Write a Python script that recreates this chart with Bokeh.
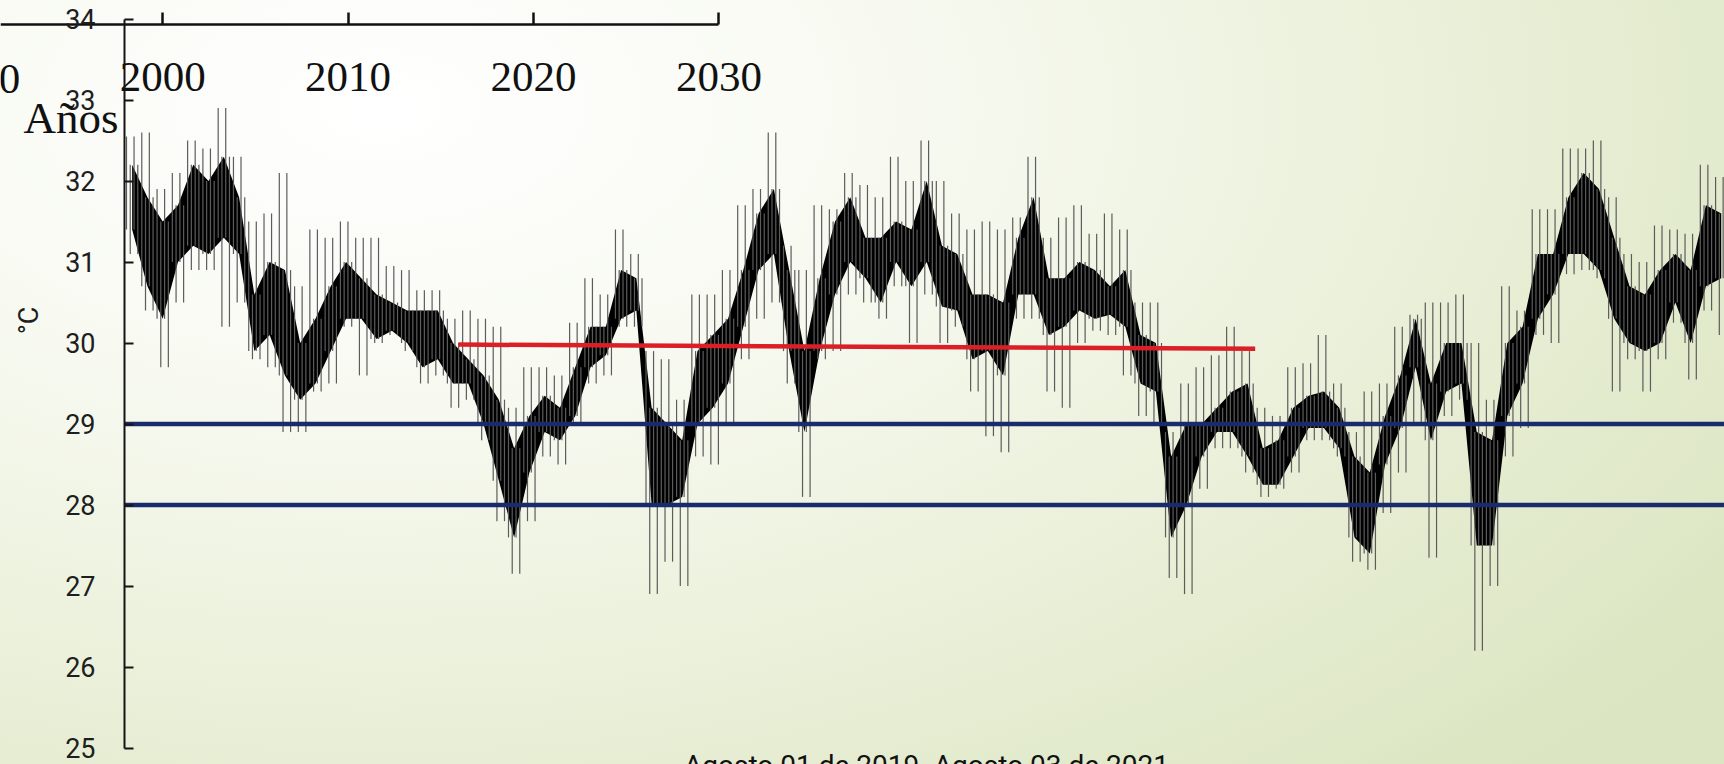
import pandas as pd
from math import pi
from bokeh.plotting import figure
from bokeh.models import Range1d, FixedTicker, Label, LinearAxis, ColumnDataSource
from bokeh.core.properties import value
from bokeh.embed import file_html
from bokeh.resources import INLINE

# ---------------- data ----------------
START = "2019-08-01"
END = "2021-08-03"
X_LABEL = "Agosto 01 de 2019- Agosto 03 de 2021"

# weekly bins from 2019-08-01: spike maximum, dense band top, dense band bottom, spike minimum (°C)
temp_max = [32.55, 32.6, 31.9, 32.1, 32.5, 32.4, 32.9, 32.3, 31.5, 31.6,
            32.1, 30.7, 31.4, 31.3, 31.5, 31.3, 31.3, 30.95, 30.9, 30.65,
            30.65, 30.3, 30.4, 30.3, 30.2, 29.2, 29.7, 29.7, 29.6, 30.25,
            30.8, 30.6, 31.4, 31.1, 29.9, 29.8, 29.3, 30.6, 30.6, 30.9,
            31.7, 31.9, 32.6, 31.2, 30.9, 31.7, 31.65, 32.1, 31.95, 31.8,
            32.3, 32.0, 32.5, 32.0, 31.6, 31.4, 31.5, 31.4, 31.55, 32.3,
            31.3, 31.55, 31.7, 31.35, 31.6, 31.4, 30.5, 30.5, 28.9, 29.5,
            29.7, 29.85, 30.2, 29.9, 29.2, 29.1, 29.7, 29.75, 30.1, 29.5,
            28.9, 29.4, 29.5, 30.2, 30.35, 30.5, 30.5, 30.6, 30.0, 29.3,
            30.7, 30.4, 31.65, 31.65, 32.4, 32.4, 32.5, 31.8, 31.1, 31.0,
            31.45, 31.4, 31.35, 32.2, 32.05]
band_hi = [32.2, 31.8, 31.5, 31.7, 32.2, 32.0, 32.3, 31.8, 30.6, 31.0,
           30.9, 30.0, 30.3, 30.7, 31.0, 30.8, 30.6, 30.5, 30.4, 30.4,
           30.4, 30.0, 29.8, 29.6, 29.3, 28.7, 29.1, 29.35, 29.2, 29.7,
           30.2, 30.2, 30.9, 30.8, 29.2, 29.0, 28.8, 29.9, 30.1, 30.3,
           30.9, 31.6, 31.9, 30.9, 29.9, 30.8, 31.5, 31.8, 31.3, 31.3,
           31.5, 31.4, 32.0, 31.2, 31.1, 30.6, 30.6, 30.5, 31.3, 31.8,
           30.8, 30.8, 31.0, 30.9, 30.7, 30.9, 30.1, 30.0, 28.6, 29.0,
           29.0, 29.2, 29.4, 29.5, 28.7, 28.8, 29.2, 29.35, 29.4, 29.2,
           28.6, 28.4, 29.1, 29.6, 30.3, 29.5, 30.0, 30.0, 28.9, 28.8,
           30.0, 30.2, 31.1, 31.1, 31.8, 32.1, 31.9, 31.3, 30.7, 30.6,
           30.9, 31.1, 30.9, 31.7, 31.6]
band_lo = [31.4, 30.7, 30.3, 31.0, 31.2, 31.1, 31.3, 31.1, 29.9, 30.1,
           29.6, 29.3, 29.5, 29.9, 30.3, 30.3, 30.05, 30.15, 30.0, 29.7,
           29.8, 29.5, 29.5, 29.0, 28.3, 27.6, 28.4, 28.9, 28.8, 29.1,
           29.7, 29.85, 30.3, 30.4, 28.0, 28.0, 28.1, 29.0, 29.2, 29.5,
           30.2, 30.9, 31.1, 29.9, 28.9, 29.9, 30.6, 31.0, 30.8, 30.5,
           31.0, 30.7, 31.0, 30.45, 30.4, 29.8, 29.9, 29.6, 30.6, 30.6,
           30.1, 30.2, 30.4, 30.3, 30.35, 30.2, 29.5, 29.4, 27.6, 28.0,
           28.6, 28.9, 28.9, 28.6, 28.25, 28.25, 28.6, 28.95, 28.95, 28.7,
           27.6, 27.4, 28.5, 28.95, 29.7, 28.8, 29.4, 29.5, 27.5, 27.5,
           29.1, 29.5, 30.3, 30.6, 31.1, 31.1, 30.9, 30.3, 30.0, 29.9,
           30.0, 30.5, 30.0, 30.7, 30.8]
temp_min = [31.1, 30.4, 29.7, 30.5, 30.9, 30.9, 30.2, 30.5, 29.8, 29.7,
            28.9, 28.9, 29.4, 29.5, 30.2, 29.6, 30.0, 30.1, 29.9, 29.5,
            29.6, 29.2, 29.3, 28.8, 27.8, 27.15, 27.8, 28.6, 28.5, 29.0,
            29.5, 29.6, 30.2, 30.2, 26.9, 27.3, 27.0, 28.6, 28.5, 29.0,
            29.8, 30.3, 30.5, 29.5, 28.1, 29.8, 29.9, 30.6, 30.5, 30.3,
            30.7, 30.0, 30.6, 30.0, 30.2, 29.4, 28.85, 28.65, 30.3, 30.3,
            29.4, 29.2, 30.0, 30.15, 30.1, 29.6, 29.1, 29.0, 27.1, 26.9,
            28.2, 28.7, 28.7, 28.4, 28.1, 28.2, 28.4, 28.8, 28.8, 28.6,
            27.3, 27.2, 27.9, 28.4, 29.0, 27.35, 29.1, 29.3, 26.2, 27.0,
            28.6, 28.95, 30.1, 30.0, 30.85, 30.9, 30.8, 29.4, 29.8, 29.4,
            29.8, 30.25, 29.55, 30.4, 30.1]

mean_2020_dates = ["2020-01-01", "2020-12-31"]
mean_2020_vals = [29.98, 29.93]
threshold_vals = [29, 28]

y_ticks = [25, 26, 27, 28, 29, 30, 31, 32, 33, 34]
year_ticks = [1990, 2000, 2010, 2020, 2030]

# ---------------- layout helpers (pixel geometry of the slide) ----------------
W, H = 1724, 764
AXIS_X = 124              # canvas x of the temperature axis (= 2019-08-01)
PX_PER_DEG = 81.0
Y30_PX = 342.5            # canvas y of 30 °C
PX_PER_DAY = 1600 / 733
YEAR_PX = 18.54           # px per year on the pasted "Años" axis
Y2000_PX = 162.2          # canvas x of 2000 on that axis


def deg_at(py):
    return 30 + (Y30_PX - py) / PX_PER_DEG


def year_at(px):
    return 2000 + (px - Y2000_PX) / YEAR_PX


def date_at(px):
    return pd.Timestamp(START) + pd.Timedelta(days=(px - AXIS_X) / PX_PER_DAY)


def ms(ts):
    return ts.value / 1e6


t0 = pd.Timestamp(START)
t_end = pd.Timestamp(END)

p = figure(width=W, height=H, x_axis_type="datetime",
           x_range=Range1d(date_at(0), date_at(W)), y_range=Range1d(deg_at(H), deg_at(0)),
           min_border_left=0, min_border_right=0, min_border_top=0, min_border_bottom=0,
           toolbar_location=None, output_backend="svg", title=None,
           styles={"background": "radial-gradient(ellipse 95% 120% at 22% 14%, #ffffff 0%, #f8faf2 30%, #eaf0d9 65%, #dbe5c1 100%)"})
p.background_fill_alpha = 0
p.border_fill_alpha = 0
p.outline_line_color = None
p.grid.visible = False
p.xaxis.visible = False

p.extra_x_ranges = {"years": Range1d(year_at(0), year_at(W))}

# temperature axis, drawn at 2019-08-01
ya = p.yaxis[0]
ya.fixed_location = ms(t0)
ya.ticker = FixedTicker(ticks=y_ticks)
ya.bounds = (25, 34)
ya.major_tick_in = 9
ya.major_tick_out = 0
ya.minor_tick_line_color = None
ya.axis_line_width = 2
ya.major_tick_line_width = 2
ya.axis_line_color = "#151515"
ya.major_tick_line_color = "#151515"
ya.major_label_text_font = "Roboto"
ya.major_label_text_font_size = "27px"
ya.major_label_text_color = "#1e1e1e"
ya.major_label_standoff = 29

# series: dense daily band plus hourly spikes to the weekly extremes
centers = pd.date_range(START, periods=len(temp_max), freq="7D") + pd.Timedelta(hours=84)
src = ColumnDataSource(dict(
    x=centers,
    x1=centers - pd.Timedelta(hours=62),
    x2=centers - pd.Timedelta(hours=21),
    x3=centers + pd.Timedelta(hours=21),
    x4=centers + pd.Timedelta(hours=62),
    hi=temp_max, bhi=band_hi, blo=band_lo, lo=temp_min))
p.varea(x="x", y1="blo", y2="bhi", source=src, fill_color="#000000")
spike = dict(source=src, line_color="#5c5c5c", line_width=1.2)
p.segment(x0="x1", y0="blo", x1="x1", y1="hi", **spike)
p.segment(x0="x2", y0="lo", x1="x2", y1="bhi", **spike)
p.segment(x0="x3", y0="blo", x1="x3", y1="hi", **spike)
p.segment(x0="x4", y0="lo", x1="x4", y1="bhi", **spike)

# reference lines
for v in threshold_vals:
    p.line(x=[t0, t_end], y=[v, v], line_color="#1a2b6b", line_width=4.5)
p.line(x=pd.to_datetime(mean_2020_dates), y=mean_2020_vals, line_color="#dc1f26", line_width=4.5)

# pasted "Años" axis fragment
yr = LinearAxis(x_range_name="years", fixed_location=deg_at(24),
                ticker=FixedTicker(ticks=year_ticks), bounds=(year_at(-20), year_ticks[-1]),
                major_tick_in=12, major_tick_out=0, minor_tick_line_color=None,
                axis_line_width=2.5, major_tick_line_width=2.5,
                axis_line_color="#111111", major_tick_line_color="#111111",
                major_label_text_font="Liberation Serif", major_label_text_font_size="43px",
                major_label_text_color="#111111", major_label_standoff=38)
p.add_layout(yr, "below")
hidden = [y for y in year_ticks if y < year_at(0)]
p.text(x=hidden, y=[deg_at(78)] * len(hidden), text=[str(y) for y in hidden], x_range_name="years",
       text_align="center", text_baseline="alphabetic", text_font=value("Liberation Serif"),
       text_font_size="43px", text_color="#111111")
p.add_layout(Label(x=year_at(23), y=deg_at(117.5), x_range_name="years", text="Años",
                   text_align="left", text_baseline="alphabetic",
                   text_font="Liberation Serif", text_font_size="45px", text_color="#111111"))
p.add_layout(Label(x=year_at(28), y=deg_at(320), x_range_name="years", text="°C", angle=pi / 2,
                   text_align="center", text_baseline="middle",
                   text_font="Roboto", text_font_size="27px", text_color="#1e1e1e"))
p.add_layout(Label(x=ms(date_at(926)), y=deg_at(765), text=X_LABEL,
                   text_align="center", text_baseline="alphabetic",
                   text_font="Roboto", text_font_size="28px", text_color="#111111"))

open("out.html", "w").write(file_html(p, INLINE))
